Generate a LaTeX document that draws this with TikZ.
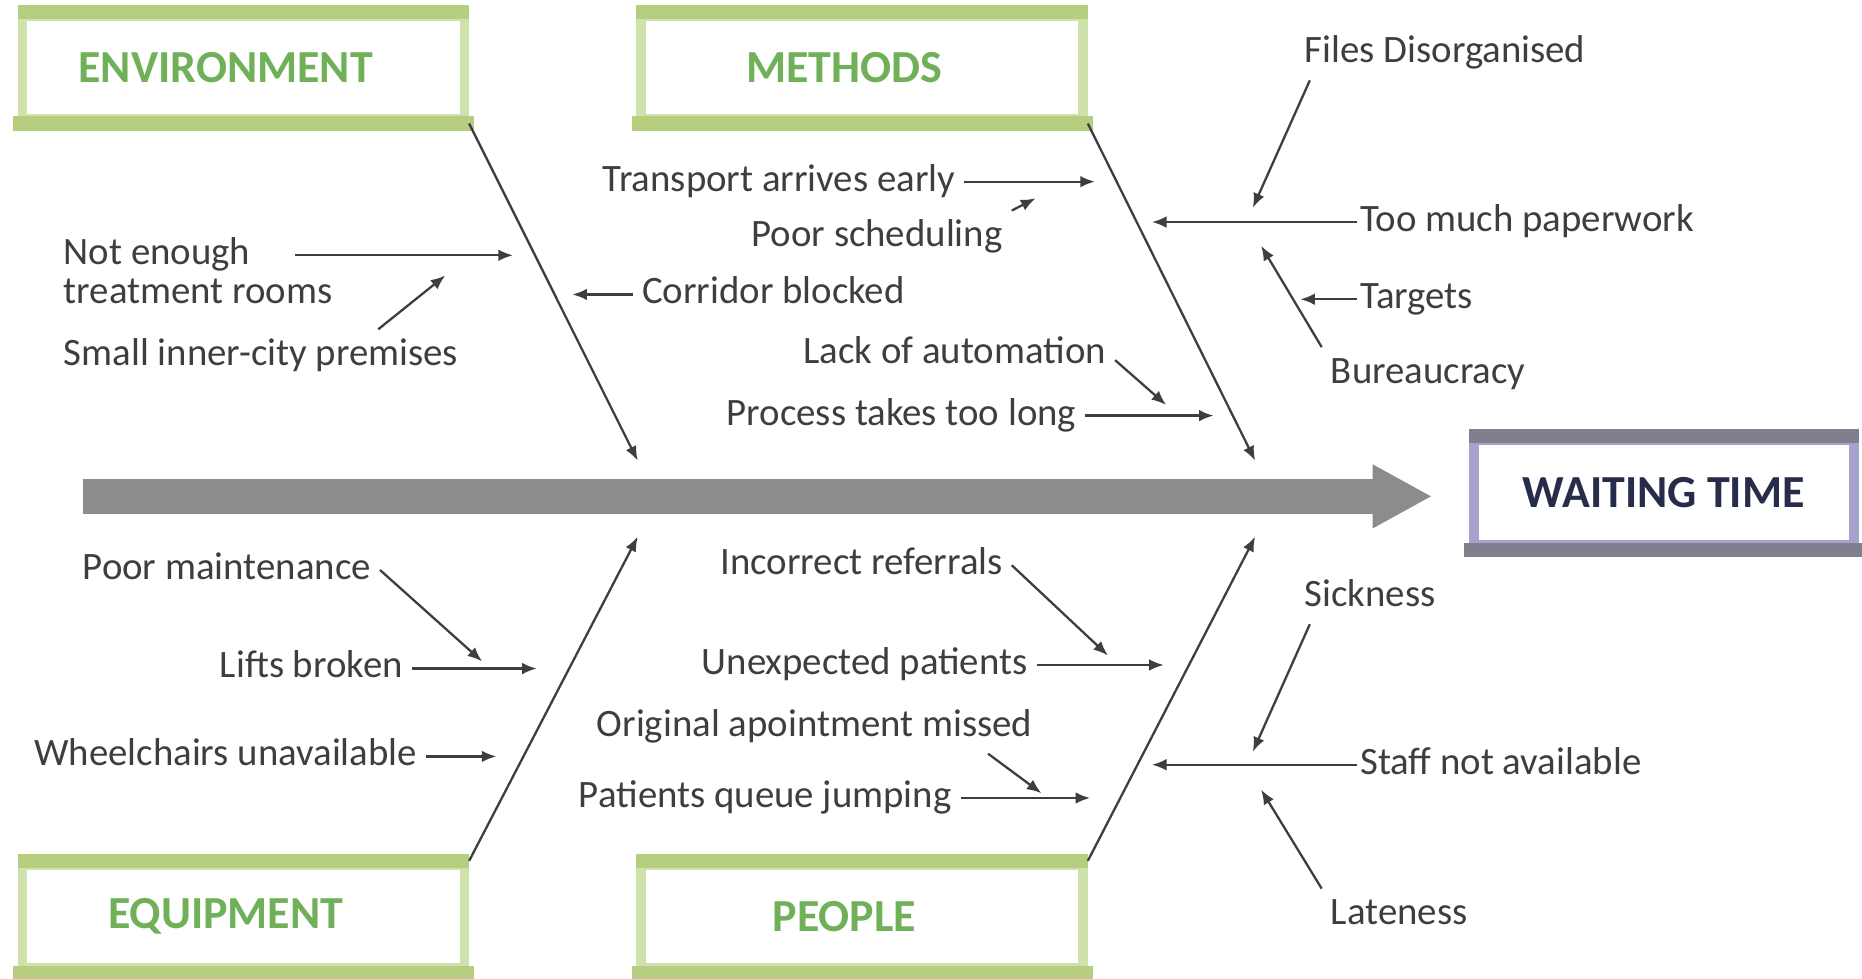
\documentclass[tikz,border=0pt]{standalone}
\usepackage{fontspec}
\setmainfont{Carlito}
\usetikzlibrary{arrows.meta}
\definecolor{framegreen}{RGB}{181,206,128}
\definecolor{sidegreen}{RGB}{207,226,172}
\definecolor{labelgreen}{RGB}{112,176,88}
\definecolor{framegrey}{RGB}{128,127,142}
\definecolor{sidelilac}{RGB}{166,162,206}
\definecolor{effectblue}{RGB}{40,44,75}
\definecolor{spinegrey}{RGB}{140,140,140}
\definecolor{causegrey}{RGB}{62,62,62}
\begin{document}
\begin{tikzpicture}[
    catbox/.style={draw=sidegreen,line width=2.3pt,fill=white,minimum width=3.72cm,minimum height=0.86cm,
      text=labelgreen,font=\fontsize{11}{13}\selectfont\bfseries,execute at end node={\hspace{0.3cm}}},
    effectbox/.style={draw=sidelilac,line width=2.3pt,fill=white,minimum width=3.2cm,minimum height=0.88cm,
      text=effectblue,font=\fontsize{11}{13}\selectfont\bfseries},
    band/.style={line width=3.4pt,shorten <=-1.15pt,shorten >=-1.15pt},
    cause/.style={text=causegrey,inner sep=2pt,font=\fontsize{9.3}{10}\selectfont,text height=0.65em,text depth=0.2em},
    bone/.style={draw=causegrey,line width=0.55pt,-{Latex[length=3.5pt,width=2.8pt]}},
  ]
  \useasboundingbox (0,0) rectangle (15.68,-8.24);
  \node[catbox] (env) at (2.05,-0.57) {ENVIRONMENT};
  \node[catbox] (meth) at (7.26,-0.57) {METHODS};
  \node[catbox] (equip) at (2.05,-7.72) {EQUIPMENT};
  \node[catbox] (people) at (7.26,-7.72) {PEOPLE};
  \node[effectbox] (effect) at (14.01,-4.15) {WAITING TIME};
  \draw[band,framegreen] (env.north west) -- (env.north east) (env.south west) -- (env.south east);
  \draw[band,framegreen] (meth.north west) -- (meth.north east) (meth.south west) -- (meth.south east);
  \draw[band,framegreen] (equip.north west) -- (equip.north east) (equip.south west) -- (equip.south east);
  \draw[band,framegreen] (people.north west) -- (people.north east) (people.south west) -- (people.south east);
  \draw[band,framegrey] (effect.north west) -- (effect.north east) (effect.south west) -- (effect.south east);

  \coordinate (spine) at (0.70,-4.18);
  \draw[spinegrey,line width=0.29cm,shorten >=0.31cm,-{Triangle[length=0.5cm,width=0.5cm]}] (spine) -- (spine -| effect.west);

  \coordinate (envtip) at (5.37,-3.88);
  \coordinate (methtip) at (10.57,-3.88);
  \coordinate (equiptip) at (5.37,-4.52);
  \coordinate (peopletip) at (10.57,-4.52);
  \draw[bone] (env.south east) -- (envtip);
  \draw[bone] (meth.south east) -- (methtip);
  \draw[bone] (equip.north east) -- (equiptip);
  \draw[bone] (people.north east) -- (peopletip);

  \node[cause,anchor=west] (enough) at (0.46,-2.15) {Not enough};
  \node[cause,anchor=west] (rooms) at (0.46,-2.48) {treatment rooms};
  \node[cause,anchor=west] (premises) at (0.46,-3.00) {Small inner-city premises};
  \node[cause,anchor=west] (corridor) at (5.33,-2.48) {Corridor blocked};
  \coordinate (roomsend) at (4.32,-2.15);
  \coordinate (premisesend) at (3.75,-2.32);
  \coordinate (corridorend) at (4.82,-2.48);
  \draw[bone] ([xshift=0.3cm]enough.east) -- (roomsend);
  \draw[bone] ([xshift=-0.75cm]premises.north east) -- (premisesend);
  \draw[bone] (corridor.west) -- (corridorend);

  \node[cause,anchor=east] (transport) at (8.12,-1.53) {Transport arrives early};
  \node[cause,anchor=east] (sched) at (8.52,-2.00) {Poor scheduling};
  \node[cause,anchor=east] (lack) at (9.39,-2.98) {Lack of automation};
  \node[cause,anchor=east] (process) at (9.14,-3.50) {Process takes too long};
  \coordinate (transportend) at (9.22,-1.53);
  \coordinate (schedend) at (8.72,-1.67);
  \coordinate (lackend) at (9.82,-3.41);
  \coordinate (processend) at (10.22,-3.50);
  \draw[bone] (transport.east) -- (transportend);
  \draw[bone] (sched.north east) -- (schedend);
  \draw[bone] ([yshift=-1.5pt]lack.east) -- (lackend);
  \draw[bone] (process.east) -- (processend);

  \node[cause,anchor=west] (files) at (10.91,-0.45) {Files Disorganised};
  \node[cause,anchor=west,inner xsep=0.5pt] (paper) at (11.43,-1.87) {Too much paperwork};
  \node[cause,anchor=west,inner xsep=0.5pt] (targets) at (11.43,-2.52) {Targets};
  \node[cause,anchor=west] (bureau) at (11.13,-3.15) {Bureaucracy};
  \coordinate (filesend) at (10.55,-1.75);
  \coordinate (paperend) at (9.70,-1.87);
  \coordinate (targetsend) at (10.95,-2.52);
  \coordinate (bureauend) at (10.62,-2.07);
  \draw[bone] ([xshift=0.12cm]files.south west) -- (filesend);
  \draw[bone] (paper.west) -- (paperend);
  \draw[bone] (targets.west) -- (targetsend);
  \draw[bone] (bureau.north west) -- (bureauend);

  \node[cause,anchor=east] (maint) at (3.20,-4.80) {Poor maintenance};
  \node[cause,anchor=east] (lifts) at (3.47,-5.63) {Lifts broken};
  \node[cause,anchor=east] (wheel) at (3.59,-6.37) {Wheelchairs unavailable};
  \coordinate (maintend) at (4.06,-5.57);
  \coordinate (liftsend) at (4.52,-5.63);
  \coordinate (wheelend) at (4.18,-6.37);
  \draw[bone] (maint.east) -- (maintend);
  \draw[bone] (lifts.east) -- (liftsend);
  \draw[bone] (wheel.east) -- (wheelend);

  \node[cause,anchor=east] (referr) at (8.52,-4.76) {Incorrect referrals};
  \node[cause,anchor=east] (unexp) at (8.73,-5.60) {Unexpected patients};
  \node[cause,anchor=east] (missed) at (8.77,-6.12) {Original apointment missed};
  \node[cause,anchor=east] (queue) at (8.09,-6.72) {Patients queue jumping};
  \coordinate (referrend) at (9.33,-5.52);
  \coordinate (unexpend) at (9.80,-5.60);
  \coordinate (missedend) at (8.77,-6.68);
  \coordinate (queueend) at (9.18,-6.72);
  \draw[bone] (referr.east) -- (referrend);
  \draw[bone] (unexp.east) -- (unexpend);
  \draw[bone] ([xshift=-0.45cm]missed.south east) -- (missedend);
  \draw[bone] (queue.east) -- (queueend);

  \node[cause,anchor=west] (sick) at (10.91,-5.03) {Sickness};
  \node[cause,anchor=west,inner xsep=0.5pt] (staff) at (11.43,-6.44) {Staff not available};
  \node[cause,anchor=west] (late) at (11.13,-7.71) {Lateness};
  \coordinate (sickend) at (10.55,-6.33);
  \coordinate (staffend) at (9.70,-6.44);
  \coordinate (lateend) at (10.62,-6.65);
  \draw[bone] ([xshift=0.12cm]sick.south west) -- (sickend);
  \draw[bone] (staff.west) -- (staffend);
  \draw[bone] (late.north west) -- (lateend);
\end{tikzpicture}
\end{document}
